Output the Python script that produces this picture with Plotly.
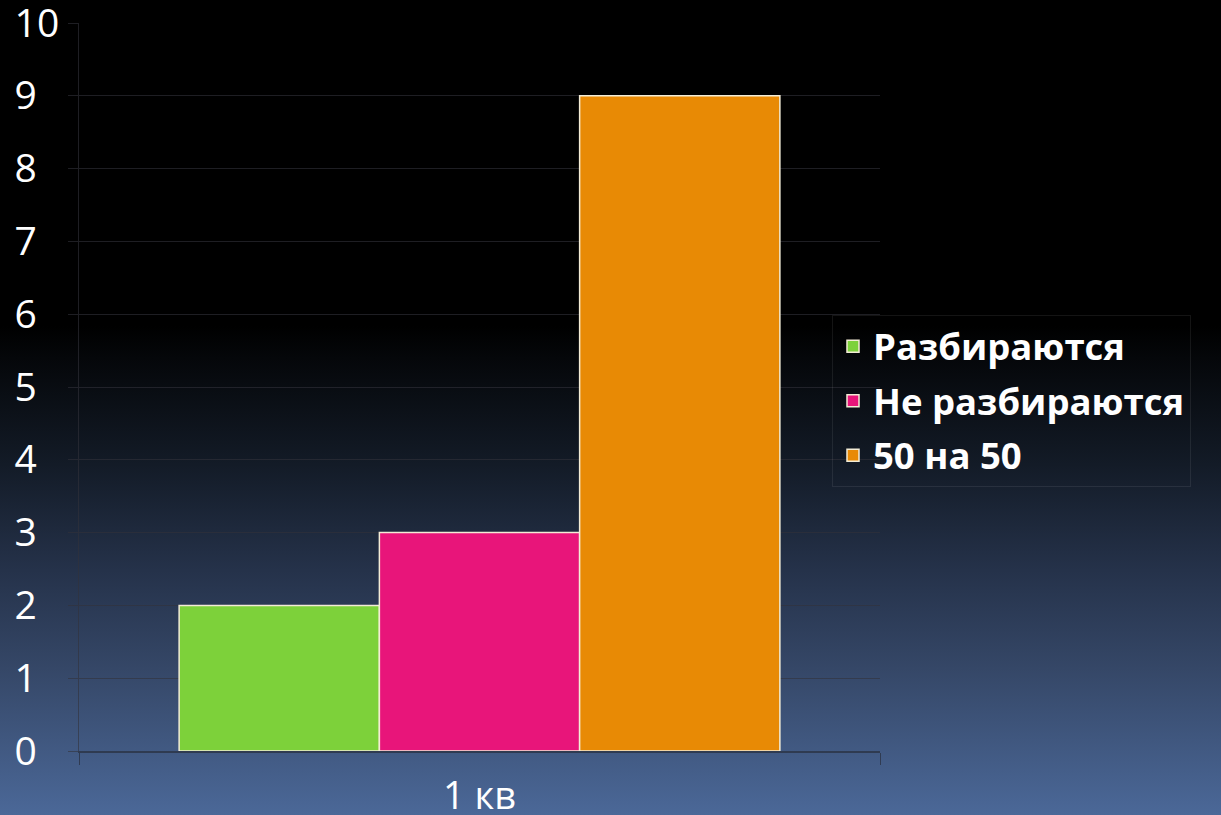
import base64
import plotly.graph_objects as go

# ---- data ----
categories = ["1 кв"]
series_names = ["Разбираются", "Не разбираются", "50 на 50"]
series_values = [[2], [3], [9]]
series_colors = ["#7dd13a", "#e8157a", "#e88a05"]
y_tick_values = [0, 1, 2, 3, 4, 5, 6, 7, 8, 9, 10]
y_tick_labels = ["0", "1", "2", "3", "4", "5", "6", "7", "8", "9", "10"]

W, H = 1221, 815
L, R, T, B = 79, 341, 23, 64

# gradient background (black top -> steel blue bottom)
svg = f'''<svg xmlns="http://www.w3.org/2000/svg" width="{W}" height="{H}" preserveAspectRatio="none">
<defs><linearGradient id="g" x1="0" y1="0" x2="0" y2="1">
<stop offset="0" stop-color="#000000"/>
<stop offset="0.40" stop-color="#000000"/>
<stop offset="0.44" stop-color="#05070a"/>
<stop offset="0.57" stop-color="#131b27"/>
<stop offset="0.70" stop-color="#25324a"/>
<stop offset="0.82" stop-color="#354767"/>
<stop offset="1" stop-color="#4b6898"/>
</linearGradient></defs>
<rect width="{W}" height="{H}" fill="url(#g)"/></svg>'''
src = "data:image/svg+xml;base64," + base64.b64encode(svg.encode()).decode()

pw, ph = W - L - R, H - T - B

fig = go.Figure()
for i, (name, vals, col) in enumerate(zip(series_names, series_values, series_colors)):
    fig.add_trace(go.Bar(
        x=categories, y=vals, name=name, legendgroup=f"g{i}",
        marker=dict(color=col, line=dict(color="#f3ecd6", width=1.5)),
    ))

label_display = [t if len(t) > 1 else t + "\u2007" for t in y_tick_labels]

fig.update_layout(
    width=W, height=H,
    margin=dict(l=L, r=R, t=T, b=B, pad=0, autoexpand=False),
    paper_bgcolor="#000000",
    plot_bgcolor="rgba(0,0,0,0)",
    barmode="group", bargap=0.25, bargroupgap=0,
    font=dict(family="Open Sans", color="white"),
    images=[dict(source=src, xref="paper", yref="paper",
                 x=-L / pw, y=1 + T / ph, sizex=W / pw, sizey=H / ph,
                 sizing="stretch", xanchor="left", yanchor="top", layer="below")],
    legend=dict(
        x=(832 - L) / pw, y=(H - B - 315) / ph, xanchor="left", yanchor="top",
        font=dict(family="Open Sans", size=36.5, color="white", weight="bold"),
        bgcolor="rgba(0,0,0,0)", bordercolor="rgba(255,255,255,0.08)", borderwidth=1,
        tracegroupgap=4, traceorder="grouped",
    ),
    showlegend=True,
)
fig.update_yaxes(
    range=[0, 10], tickvals=y_tick_values, ticktext=label_display,
    automargin=False, ticklabeloverflow="allow",
    showgrid=True, gridcolor="rgba(50,50,58,0.6)", gridwidth=1,
    showline=True, linecolor="rgba(50,50,58,0.6)", linewidth=1,
    ticks="outside", ticklen=10, tickcolor="rgba(50,50,58,0.6)",
    tickfont=dict(family="Open Sans", size=39, color="white"),
    ticklabelstandoff=1, zeroline=False,
)
fig.update_xaxes(
    automargin=False, ticklabeloverflow="allow",
    showline=True, linecolor="rgba(40,45,60,0.7)", linewidth=1.5,
    ticks="outside", ticklen=12, tickcolor="rgba(40,45,60,0.7)",
    tickson="boundaries", ticklabelstandoff=11,
    tickfont=dict(family="Open Sans", size=38, color="white"),
    showgrid=False,
)

fig.write_html("out.html", config={"displayModeBar": False},
               post_script="document.body.style.margin='0';document.body.style.overflow='hidden';")
